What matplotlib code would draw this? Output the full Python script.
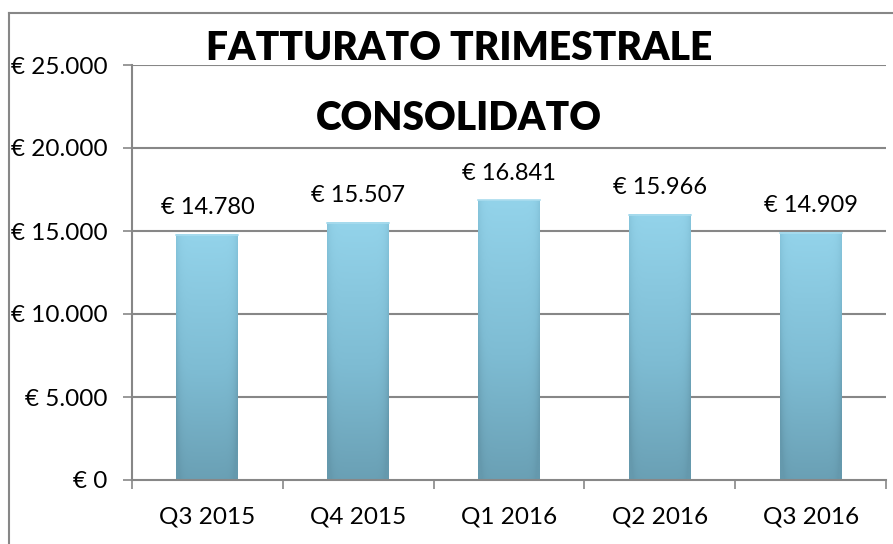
import numpy as np
import matplotlib.pyplot as plt
from matplotlib.colors import LinearSegmentedColormap
from matplotlib.lines import Line2D

plt.rcParams['font.family'] = ['Lato', 'DejaVu Sans']

# dati
trimestri = ['Q3 2015', 'Q4 2015', 'Q1 2016', 'Q2 2016', 'Q3 2016']
fatturato = [14780, 15507, 16841, 15966, 14909]
yticks = [0, 5000, 10000, 15000, 20000, 25000]

def euro(v):
    return '€ ' + f'{v:,.0f}'.replace(',', '.')

fig = plt.figure(figsize=(8.93, 5.44), dpi=100)
ax = fig.add_axes([132 / 893, 64 / 544, 754 / 893, 415 / 544])

grey = '#878787'
x = np.arange(len(trimestri))
bw = 0.41

# griglia dietro le barre
for t in yticks[1:]:
    ax.axhline(t, color=grey, lw=1.5, zorder=0)

# barre con sfumatura
cmap = LinearSegmentedColormap.from_list('bar', ['#6599ad', '#7ebcd3', '#93d3ea'])
vert = np.linspace(0, 1, 200)[:, None]
horiz = np.linspace(-1, 1, 60)[None, :]
shade = vert * 0.9 + 0.1 - 0.3 * np.abs(horiz) ** 8
shade = np.clip(shade, 0, 1)
bars = ax.bar(x, fatturato, width=bw, color='none', edgecolor='none', zorder=2)
for b, v in zip(bars, fatturato):
    x0 = b.get_x()
    ax.imshow(shade, cmap=cmap, vmin=0, vmax=1, origin='lower', aspect='auto',
              extent=(x0, x0 + bw, 0, v), zorder=2, interpolation='bilinear')
    ax.add_line(Line2D([x0, x0 + bw], [v, v], color='#a9dcee', lw=1.2, zorder=3))
    ax.annotate(euro(v), (b.get_x() + bw / 2, v), xytext=(0, 12), textcoords='offset points',
                ha='center', va='bottom', fontsize=17)
ax.set_xlim(-0.5, len(trimestri) - 0.5)
ax.set_ylim(0, 25000)

for s in ['top', 'right']:
    ax.spines[s].set_visible(False)
for s in ['left', 'bottom']:
    ax.spines[s].set_color(grey)
    ax.spines[s].set_linewidth(1.5)
    ax.spines[s].set_zorder(4)

ax.set_yticks(yticks)
ax.set_yticklabels([euro(t) for t in yticks], fontsize=17.5)
ax.tick_params(axis='y', length=6.5, width=1.2, color=grey, pad=11)

ax.set_xticks(x)
ax.set_xticklabels(trimestri, fontsize=17.5)
ax.set_xticks(np.arange(len(trimestri) + 1) - 0.5, minor=True)
ax.tick_params(axis='x', which='major', length=0, pad=19)
ax.tick_params(axis='x', which='minor', length=6.5, width=1.2, color=grey)

fig.text(459 / 893, 1 - 48 / 544, 'FATTURATO TRIMESTRALE', ha='center', va='center',
         fontsize=28, fontweight='heavy')
fig.text(459 / 893, 1 - 119 / 544, 'CONSOLIDATO', ha='center', va='center',
         fontsize=28, fontweight='heavy')

# cornice esterna
fig.add_artist(Line2D([9 / 893, 9 / 893], [0, 1 - 13 / 544], color=grey, lw=1.5))
fig.add_artist(Line2D([9 / 893, 1], [1 - 13 / 544, 1 - 13 / 544], color=grey, lw=1.5))

fig.savefig('out.png', dpi=100)
